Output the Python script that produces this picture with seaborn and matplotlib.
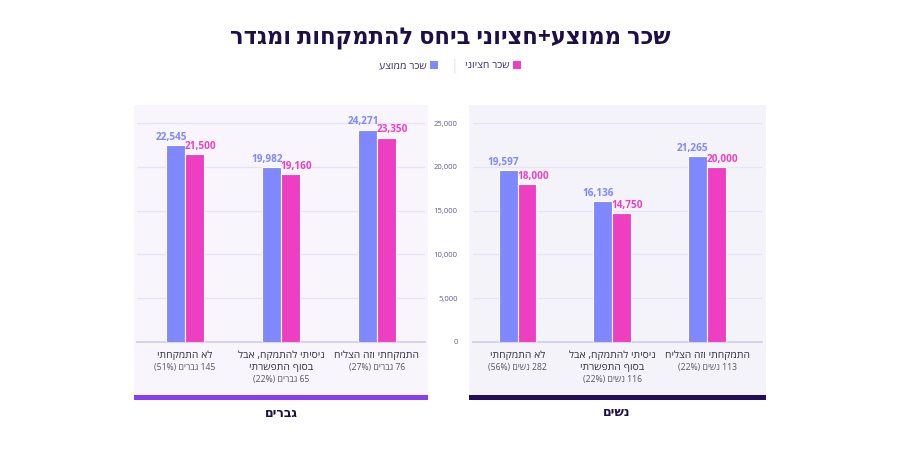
import re
import numpy as np
import pandas as pd
import matplotlib
matplotlib.use("Agg")
import matplotlib.pyplot as plt
from matplotlib.patches import Rectangle
import seaborn as sns

# ---------------- data (logical Hebrew order) ----------------
title = "שכר ממוצע+חציוני ביחס להתמקחות ומגדר"
series_names = ["שכר ממוצע", "שכר חציוני"]
categories = ["לא התמקחתי", "ניסיתי להתמקח, אבל\nבסוף התפשרתי", "התמקחתי וזה הצליח"]
men_counts = ["145 גברים (51%)", "65 גברים (22%)", "76 גברים (27%)"]
women_counts = ["282 נשים (56%)", "116 נשים (22%)", "113 נשים (22%)"]
men_avg = [22545, 19982, 24271]
men_med = [21500, 19160, 23350]
women_avg = [19597, 16136, 21265]
women_med = [18000, 14750, 20000]
panel_titles = ["גברים", "נשים"]
y_ticks = [0, 5000, 10000, 15000, 20000, 25000]

# ---------------- style ----------------
BLUE = "#8088ff"
PINK = "#ee3fc3"
DARK = "#1e1046"
sns.set_theme(style="white")
plt.rcParams["font.family"] = ["Open Sans", "DejaVu Sans"]


def visual(s):
    """Very small bidi helper: turn a logical RTL string into visual order."""
    tokens = re.findall(r"[0-9A-Za-z%][0-9A-Za-z%,.]*|.", s)
    mirror = {"(": ")", ")": "("}
    return "".join(mirror.get(t, t) for t in reversed(tokens))


fig = plt.figure(figsize=(9, 4.5), dpi=100)
W, H = 900, 450

def fx(px):
    return px / W

def fy(py):
    return 1 - py / H

# panel backgrounds and bottom bars
for (x0, x1, bg, bar) in [(134, 428, "#f8f5fd", "#8a3df0"), (469, 766, "#f5f3fa", "#240b5c")]:
    fig.patches.append(Rectangle((fx(x0), fy(395)), fx(x1 - x0), (395 - 105) / H,
                                 transform=fig.transFigure, facecolor=bg, edgecolor="none", zorder=0))
    fig.patches.append(Rectangle((fx(x0), fy(400)), fx(x1 - x0), 5 / H,
                                 transform=fig.transFigure, facecolor=bar, edgecolor="none", zorder=0))

ax_m = fig.add_axes([fx(137), fy(342), fx(288), 232 / H])
ax_w = fig.add_axes([fx(473), fy(342), fx(289), 232 / H])
ax_m.set_zorder(2)
ax_w.set_zorder(2)

panels = [
    (ax_m, men_avg, men_med, men_counts, (-0.5, 2.5), panel_titles[0]),
    (ax_w, women_avg, women_med, women_counts, (-0.47, 2.58), panel_titles[1]),
]

for ax, avg, med, counts, xl, ptitle in panels:
    df = pd.DataFrame({
        "cat": list(range(len(categories))) * 2,
        "value": avg + med,
        "series": [series_names[0]] * len(avg) + [series_names[1]] * len(med),
    })
    sns.barplot(data=df, x="cat", y="value", hue="series", hue_order=series_names,
                palette=[BLUE, PINK], width=0.4, edgecolor="white", linewidth=0.8,
                saturation=1, ax=ax, zorder=3)
    ax.set_facecolor("none")
    ax.set_xlim(*xl)
    ax.set_ylim(0, 26500)
    ax.set_yticks(y_ticks)
    ax.set_axisbelow(True)
    ax.yaxis.grid(True, color="#e5e3f7", linewidth=0.9)
    ax.xaxis.grid(False)
    for s in ["top", "right", "left"]:
        ax.spines[s].set_visible(False)
    ax.spines["bottom"].set_color("#d3cfe8")
    ax.spines["bottom"].set_linewidth(1.3)
    ax.set_xticks([])
    ax.set_xlabel("")
    ax.set_ylabel("")
    ax.tick_params(axis="y", length=0)

    # value labels
    for i, (a, m) in enumerate(zip(avg, med)):
        ax.annotate(f"{a:,}", xy=(i, a), xytext=(1.2, 1.5), textcoords="offset points",
                    ha="right", va="bottom", fontsize=7.2, fontweight="bold", color=BLUE)
        ax.annotate(f"{m:,}", xy=(i, m), xytext=(-0.3, 1.5), textcoords="offset points",
                    ha="left", va="bottom", fontsize=7.2, fontweight="bold", color=PINK)

    # category labels
    for i, (cat, cnt) in enumerate(zip(categories, counts)):
        lines = cat.split("\n")
        for k, line in enumerate(lines):
            ax.annotate(visual(line), xy=(i, 0), xytext=(0, -9.5 - 8.6 * k),
                        textcoords="offset points", ha="center", va="center",
                        fontsize=7.5, color="#333344", annotation_clip=False)
        ax.annotate(visual(cnt), xy=(i, 0), xytext=(0, -9.5 - 8.6 * len(lines) - 0.4),
                    textcoords="offset points", ha="center", va="center",
                    fontsize=6.2, color="#555566", annotation_clip=False)

ax_m.set_yticklabels([])
ax_w.set_yticklabels([f"{v:,}" for v in y_ticks], fontsize=5.5, color="#5d5a9e")
ax_w.tick_params(axis="y", pad=11)

# legend handles from seaborn, then drop per-axes legends
handles, labels = ax_m.get_legend_handles_labels()
for ax in (ax_m, ax_w):
    if ax.get_legend() is not None:
        ax.get_legend().remove()

# panel titles
fig.text(fx(281), fy(413), visual(panel_titles[0]), ha="center", va="center",
         fontsize=9, fontweight="bold", color=DARK)
fig.text(fx(617), fy(413), visual(panel_titles[1]), ha="center", va="center",
         fontsize=9, fontweight="bold", color=DARK)

# title
fig.text(0.5, fy(39), visual(title), ha="center", va="center",
         fontsize=16.3, fontweight="bold", color=DARK)

# legend (markers on the right of the text, RTL style)
leg = fig.legend(handles, [visual(l) for l in labels], loc="center",
                 bbox_to_anchor=(fx(450), fy(66)), ncol=2, frameon=False,
                 markerfirst=False, handlelength=0.75, handleheight=0.75,
                 handletextpad=0.35, columnspacing=2.6, fontsize=7.5)
for t in leg.get_texts():
    t.set_color("#3a2d6a")
for h in leg.legend_handles:
    h.set_edgecolor("none")
fig.text(fx(454), fy(66), "|", ha="center", va="center", fontsize=10, color="#e2e0f5")

fig.savefig("out.png", dpi=100)
